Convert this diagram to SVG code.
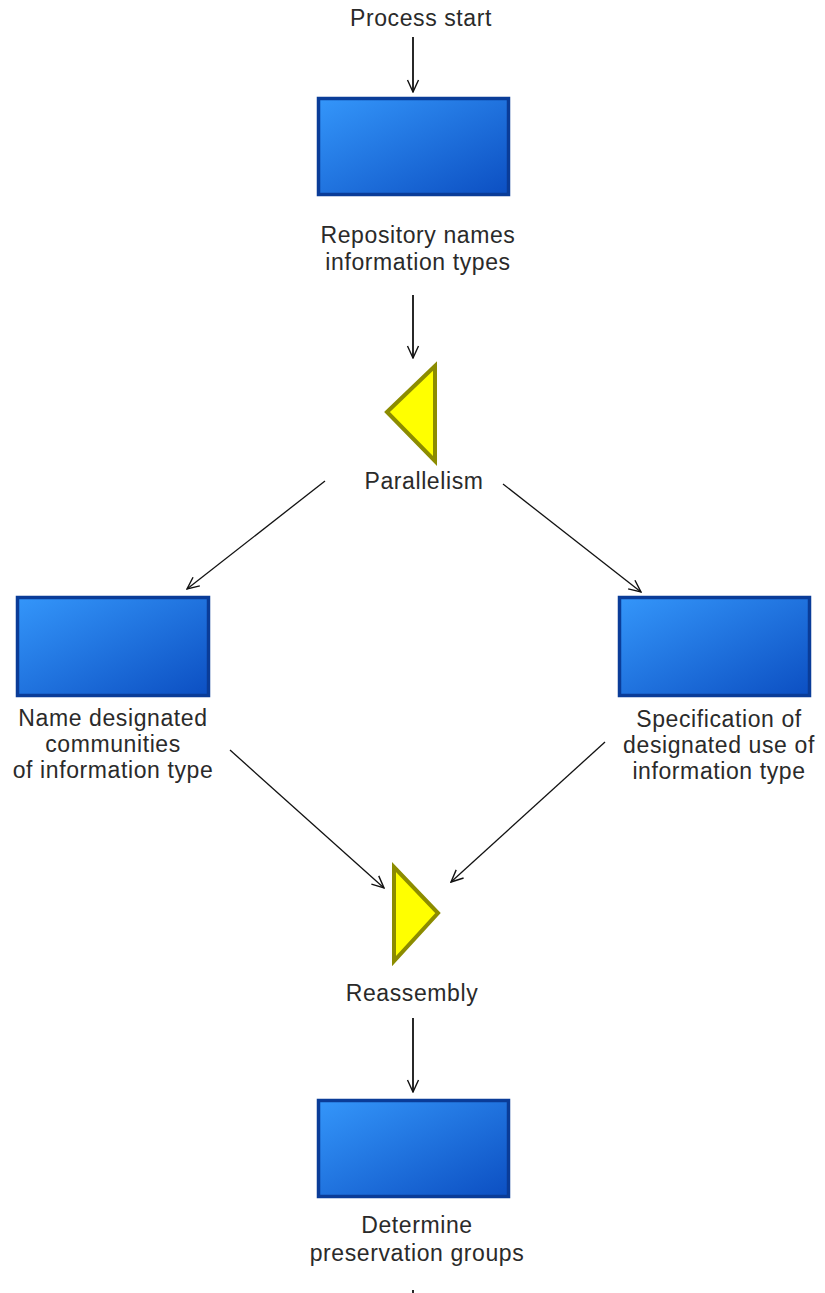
<svg xmlns="http://www.w3.org/2000/svg" width="825" height="1293" viewBox="0 0 825 1293">
<defs>
<linearGradient id="boxg" x1="0" y1="0" x2="1" y2="1">
<stop offset="0" stop-color="#3496fa"/>
<stop offset="1" stop-color="#0c4fc2"/>
</linearGradient>
<marker id="arr" viewBox="0 0 14 14" refX="13" refY="7" markerWidth="14" markerHeight="14" markerUnits="userSpaceOnUse" orient="auto">
<path d="M1,1.5 L13,7 L1,12.5" fill="none" stroke="#111" stroke-width="1.4"/>
</marker>
</defs>
<style>
.box{fill:url(#boxg);stroke:#0a3c98;stroke-width:3.5}
.tri{fill:#ffff00;stroke:#8c8c00;stroke-width:4;stroke-linejoin:miter}
.lbl{font-family:"Liberation Sans",Arial,sans-serif;font-size:23px;fill:#2a2a2a;text-anchor:middle;letter-spacing:0.6px}
.c{fill:none;stroke:#111;stroke-width:1.3}
.v{stroke-width:1.8}
</style>
<rect width="825" height="1293" fill="#fff"/>
<g id="start"><text class="lbl" x="421" y="26">Process start</text></g>
<g id="n1"><rect class="box" x="318.5" y="98.5" width="190" height="96"/>
<text class="lbl" x="418" y="243">Repository names</text>
<text class="lbl" x="418" y="270">information types</text></g>
<g id="par"><polygon class="tri" points="387,412 435,366 435,461"/>
<text class="lbl" x="424" y="489">Parallelism</text></g>
<g id="n2"><rect class="box" x="17.5" y="597.5" width="191" height="98"/>
<text class="lbl" x="113" y="726">Name designated</text>
<text class="lbl" x="113" y="752">communities</text>
<text class="lbl" x="113" y="778">of information type</text></g>
<g id="n3"><rect class="box" x="619.5" y="597.5" width="190" height="98"/>
<text class="lbl" x="719" y="727">Specification of</text>
<text class="lbl" x="719" y="753">designated use of</text>
<text class="lbl" x="719" y="779">information type</text></g>
<g id="reas"><polygon class="tri" points="394,867 394,961 438,913"/>
<text class="lbl" x="412" y="1001">Reassembly</text></g>
<g id="n4"><rect class="box" x="318.5" y="1100.5" width="190" height="96"/>
<text class="lbl" x="417" y="1233">Determine</text>
<text class="lbl" x="417" y="1261">preservation groups</text></g>
<g id="connectors">
<line class="c v" x1="413" y1="37" x2="413" y2="92" marker-end="url(#arr)"/>
<line class="c v" x1="413" y1="295" x2="413" y2="358" marker-end="url(#arr)"/>
<line class="c" x1="325" y1="481" x2="187" y2="589" marker-end="url(#arr)"/>
<line class="c" x1="503" y1="484" x2="641" y2="592" marker-end="url(#arr)"/>
<line class="c" x1="230" y1="750" x2="384" y2="888" marker-end="url(#arr)"/>
<line class="c" x1="605" y1="742" x2="451" y2="882" marker-end="url(#arr)"/>
<line class="c v" x1="413" y1="1018" x2="413" y2="1092" marker-end="url(#arr)"/>
<line class="c v" x1="413" y1="1290" x2="413" y2="1293"/>
</g>
</svg>
